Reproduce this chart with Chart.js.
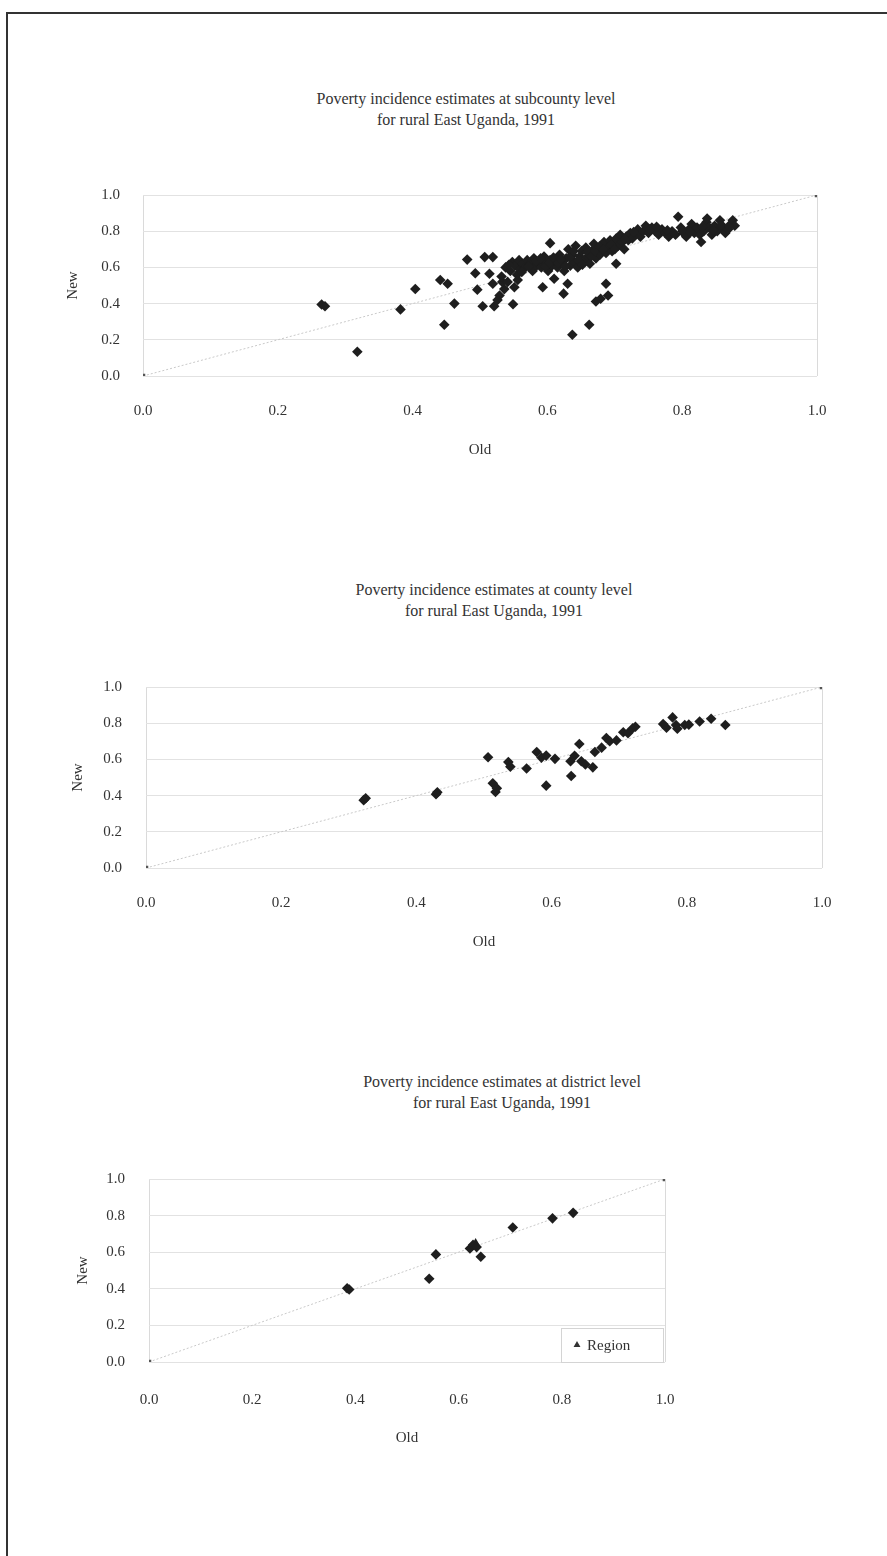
<!DOCTYPE html>
<html>
<head>
<meta charset="utf-8">
<script src="https://cdn.jsdelivr.net/npm/chart.js@4.4.1/dist/chart.umd.min.js"></script>
<style>
  html, body { margin: 0; padding: 0; background: #fff; }
  body { width: 887px; height: 1556px; position: relative; overflow: hidden; font-family: "Liberation Serif", "Times New Roman", serif; }
  .frame-top { position: absolute; left: 6px; top: 12px; width: 881px; height: 2px; background: #333; }
  .frame-left { position: absolute; left: 6px; top: 12px; width: 2px; height: 1544px; background: #333; }
  .title { position: absolute; width: 460px; text-align: center; font-size: 16px; line-height: 21px; color: #333; }
  .panel { position: absolute; left: 0; width: 887px; height: 340px; }
  canvas { display: block; }
</style>
</head>
<body>
<div class="frame-top"></div>
<div class="frame-left"></div>

<div class="title" style="left:236px; top:88px;">Poverty incidence estimates at subcounty level<br>for rural East Uganda, 1991</div>
<div class="panel" style="top:140px;"><canvas id="subcounty" width="887" height="340"></canvas></div>

<div class="title" style="left:264px; top:579px;">Poverty incidence estimates at county level<br>for rural East Uganda, 1991</div>
<div class="panel" style="top:630px;"><canvas id="county" width="887" height="340"></canvas></div>

<div class="title" style="left:272px; top:1071px;">Poverty incidence estimates at district level<br>for rural East Uganda, 1991</div>
<div class="panel" style="top:1120px;"><canvas id="district" width="887" height="340"></canvas></div>

<script>
// Shared tick values for both axes
const axisTicks = [0, 0.2, 0.4, 0.6, 0.8, 1.0];

// Old = New reference line end points
const referenceLine = [0, 1];

// Subcounty estimates: [old, new]
const subcountyPoints = [
  [0.265,0.395],[0.270,0.385],[0.318,0.134],[0.382,0.368],[0.404,0.481],[0.441,0.530],
  [0.452,0.510],[0.447,0.283],[0.462,0.400],[0.481,0.643],[0.493,0.568],[0.496,0.477],
  [0.507,0.657],[0.519,0.657],[0.504,0.385],[0.521,0.385],[0.549,0.396],[0.514,0.565],
  [0.519,0.510],[0.529,0.445],[0.536,0.480],[0.551,0.490],[0.593,0.490],[0.604,0.734],
  [0.610,0.537],[0.624,0.455],[0.630,0.510],[0.637,0.228],[0.662,0.283],[0.672,0.412],
  [0.679,0.427],[0.690,0.445],[0.687,0.510],[0.702,0.620],[0.526,0.420],[0.533,0.520],
  [0.532,0.550],[0.538,0.600],[0.541,0.520],[0.545,0.580],[0.548,0.630],[0.552,0.610],
  [0.555,0.560],[0.558,0.640],[0.560,0.590],[0.563,0.620],[0.567,0.600],[0.570,0.640],
  [0.574,0.620],[0.578,0.580],[0.580,0.650],[0.584,0.610],[0.588,0.630],[0.591,0.600],
  [0.595,0.660],[0.598,0.620],[0.601,0.580],[0.604,0.640],[0.607,0.610],[0.612,0.630],
  [0.615,0.600],[0.618,0.670],[0.622,0.620],[0.625,0.580],[0.628,0.650],[0.631,0.700],
  [0.634,0.610],[0.637,0.670],[0.640,0.630],[0.642,0.720],[0.645,0.600],[0.648,0.660],
  [0.651,0.690],[0.654,0.630],[0.657,0.710],[0.660,0.660],[0.663,0.620],[0.666,0.690],
  [0.669,0.730],[0.672,0.650],[0.675,0.700],[0.678,0.670],[0.681,0.720],[0.684,0.740],
  [0.687,0.680],[0.690,0.710],[0.693,0.750],[0.696,0.690],[0.699,0.730],[0.702,0.760],
  [0.705,0.720],[0.708,0.780],[0.711,0.740],[0.714,0.700],[0.717,0.770],[0.720,0.750],
  [0.723,0.790],[0.726,0.760],[0.730,0.780],[0.734,0.810],[0.738,0.770],[0.742,0.800],
  [0.746,0.830],[0.750,0.790],[0.755,0.820],[0.760,0.800],[0.765,0.780],[0.770,0.810],
  [0.775,0.790],[0.780,0.770],[0.785,0.800],[0.790,0.780],[0.794,0.880],[0.798,0.820],
  [0.802,0.790],[0.806,0.770],[0.810,0.810],[0.814,0.840],[0.818,0.790],[0.822,0.820],
  [0.826,0.780],[0.828,0.740],[0.832,0.800],[0.836,0.850],[0.837,0.870],[0.840,0.820],
  [0.844,0.780],[0.848,0.830],[0.852,0.800],[0.856,0.860],[0.860,0.820],[0.864,0.790],
  [0.868,0.810],[0.872,0.840],[0.875,0.860],[0.878,0.830],
  [0.543,0.615],[0.556,0.530],[0.562,0.575],[0.572,0.605],[0.583,0.635],[0.590,0.650],
  [0.597,0.605],[0.603,0.625],[0.609,0.655],[0.616,0.625],[0.620,0.645],[0.627,0.605],
  [0.633,0.655],[0.639,0.690],[0.646,0.640],[0.652,0.615],[0.659,0.685],[0.665,0.660],
  [0.671,0.690],[0.677,0.715],[0.683,0.700],[0.695,0.725],[0.700,0.700],[0.715,0.755],
  [0.728,0.795],[0.752,0.810],[0.762,0.825],[0.778,0.805],[0.800,0.800],[0.812,0.795],
  [0.830,0.825],[0.846,0.805],[0.858,0.835],[0.870,0.825]
];

// County estimates: [old, new]
const countyPoints = [
  [0.322,0.375],[0.325,0.385],[0.429,0.408],[0.431,0.418],[0.506,0.612],[0.513,0.468],
  [0.517,0.420],[0.519,0.440],[0.536,0.585],[0.539,0.560],[0.563,0.550],[0.578,0.641],
  [0.585,0.610],[0.592,0.621],[0.605,0.603],[0.592,0.455],[0.629,0.508],[0.628,0.590],
  [0.634,0.620],[0.641,0.685],[0.644,0.590],[0.650,0.572],[0.661,0.556],[0.664,0.641],
  [0.674,0.665],[0.681,0.718],[0.686,0.700],[0.696,0.705],[0.706,0.750],[0.713,0.745],
  [0.720,0.772],[0.724,0.780],[0.765,0.795],[0.770,0.775],[0.779,0.832],[0.784,0.790],
  [0.786,0.770],[0.797,0.790],[0.803,0.792],[0.819,0.809],[0.836,0.825],[0.857,0.790]
];

// District estimates: [old, new]
const districtPoints = [
  [0.384,0.403],[0.388,0.396],[0.543,0.455],[0.556,0.588],[0.622,0.620],[0.628,0.640],
  [0.635,0.628],[0.643,0.575],[0.705,0.735],[0.782,0.785],[0.822,0.815]
];

// Regional estimate: [old, new]
const regionPoints = [[0.633, 0.650]];

const FAMILY = "'Liberation Serif', 'Times New Roman', serif";
const TICK_FONT = { family: FAMILY, size: 15 };
const AXIS_FONT = { family: FAMILY, size: 15 };
const TEXT = '#333';
const GRID = '#e2e2e2';

function toXY(list) { return list.map(p => ({ x: p[0], y: p[1] })); }
function isEdge(v) { return Math.abs(v) < 1e-9 || Math.abs(v - 1) < 1e-9; }

// Draws a framed legend entry in the lower right corner of the plot area
const regionLegend = {
  id: 'regionLegend',
  afterDraw(chart, args, opts) {
    if (!opts.show) return;
    const { ctx, chartArea } = chart;
    const w = opts.width, h = opts.height;
    const x = chartArea.right - w - opts.inset;
    const y = chartArea.bottom - h;
    ctx.save();
    ctx.fillStyle = '#fff';
    ctx.fillRect(x, y, w, h);
    ctx.strokeStyle = '#d4d4d4';
    ctx.lineWidth = 1;
    ctx.strokeRect(x + 0.5, y + 0.5, w, h);
    const cy = y + h / 2;
    Chart.helpers.drawPoint(ctx, { pointStyle: 'triangle', radius: 4, borderWidth: 0 }, x + 16, cy);
    ctx.fillStyle = '#333';
    ctx.fill();
    ctx.font = "15px " + FAMILY;
    ctx.fillStyle = TEXT;
    ctx.textBaseline = 'middle';
    ctx.textAlign = 'left';
    ctx.fillText(opts.label, x + 26, cy + 1);
    ctx.restore();
  }
};

function makeChart(id, points, g, extra) {
  const datasets = [
    {
      label: 'Old = New',
      data: toXY(referenceLine.map(v => [v, v])),
      showLine: true,
      borderColor: '#c9c9c9',
      borderWidth: 1,
      borderDash: [2, 2],
      pointStyle: 'rect',
      pointRadius: 3.2,
      pointBackgroundColor: '#555',
      pointBorderColor: '#555',
      pointBorderWidth: 0,
      order: 3
    },
    {
      label: 'Estimates',
      data: toXY(points),
      pointStyle: 'rectRot',
      pointRadius: 5.3,
      pointBackgroundColor: '#1e1e1e',
      pointBorderColor: '#1e1e1e',
      pointBorderWidth: 0,
      order: 1
    }
  ];
  if (extra) datasets.push(extra);

  return new Chart(document.getElementById(id), {
    type: 'scatter',
    data: { datasets },
    plugins: [regionLegend],
    options: {
      responsive: false,
      animation: false,
      events: [],
      layout: { padding: { left: g.padL, right: g.padR, top: g.padT, bottom: g.padB } },
      plugins: {
        legend: { display: false },
        tooltip: { enabled: false },
        regionLegend: g.legend || { show: false }
      },
      scales: {
        x: {
          type: 'linear', min: 0, max: 1,
          afterBuildTicks: s => { s.ticks = axisTicks.map(v => ({ value: v })); },
          afterFit: s => { s.height = g.xH; },
          grid: { drawTicks: false, lineWidth: 1, color: c => (c.tick && isEdge(c.tick.value)) ? '#dadada' : 'rgba(0,0,0,0)' },
          border: { display: false },
          ticks: { padding: g.xTickPad, color: TEXT, font: TICK_FONT, maxRotation: 0, autoSkip: false, callback: v => Number(v).toFixed(1) },
          title: { display: true, text: 'Old', color: TEXT, font: AXIS_FONT, padding: { top: 0, bottom: g.xTitlePad } }
        },
        y: {
          type: 'linear', min: 0, max: 1,
          afterBuildTicks: s => { s.ticks = axisTicks.map(v => ({ value: v })); },
          afterFit: s => { s.width = g.yW; },
          grid: { drawTicks: false, lineWidth: 1, color: GRID },
          border: { display: false },
          ticks: { padding: g.yTickPad, color: TEXT, font: TICK_FONT, autoSkip: false, callback: v => Number(v).toFixed(1) },
          title: { display: true, text: 'New', color: TEXT, font: AXIS_FONT, padding: { top: g.yTitlePad, bottom: 0 } }
        }
      }
    }
  });
}

makeChart('subcounty', subcountyPoints,
  { padL: 60, padR: 70, padT: 55, padB: 14, xH: 90, yW: 83, xTickPad: 26, xTitlePad: 7, yTickPad: 23, yTitlePad: 4 });

makeChart('county', countyPoints,
  { padL: 63, padR: 65, padT: 57, padB: 14, xH: 88, yW: 83, xTickPad: 26, xTitlePad: 5, yTickPad: 24, yTitlePad: 6 });

makeChart('district', districtPoints,
  { padL: 66, padR: 222, padT: 59, padB: 12, xH: 86, yW: 83, xTickPad: 29, xTitlePad: 1, yTickPad: 24, yTitlePad: 8,
    legend: { show: true, label: 'Region', width: 102, height: 34, inset: 2 } },
  {
    label: 'Region',
    data: toXY(regionPoints),
    pointStyle: 'triangle',
    pointRadius: 5,
    pointBackgroundColor: '#1e1e1e',
    pointBorderColor: '#1e1e1e',
    pointBorderWidth: 0,
    order: 2
  });
</script>
</body>
</html>
